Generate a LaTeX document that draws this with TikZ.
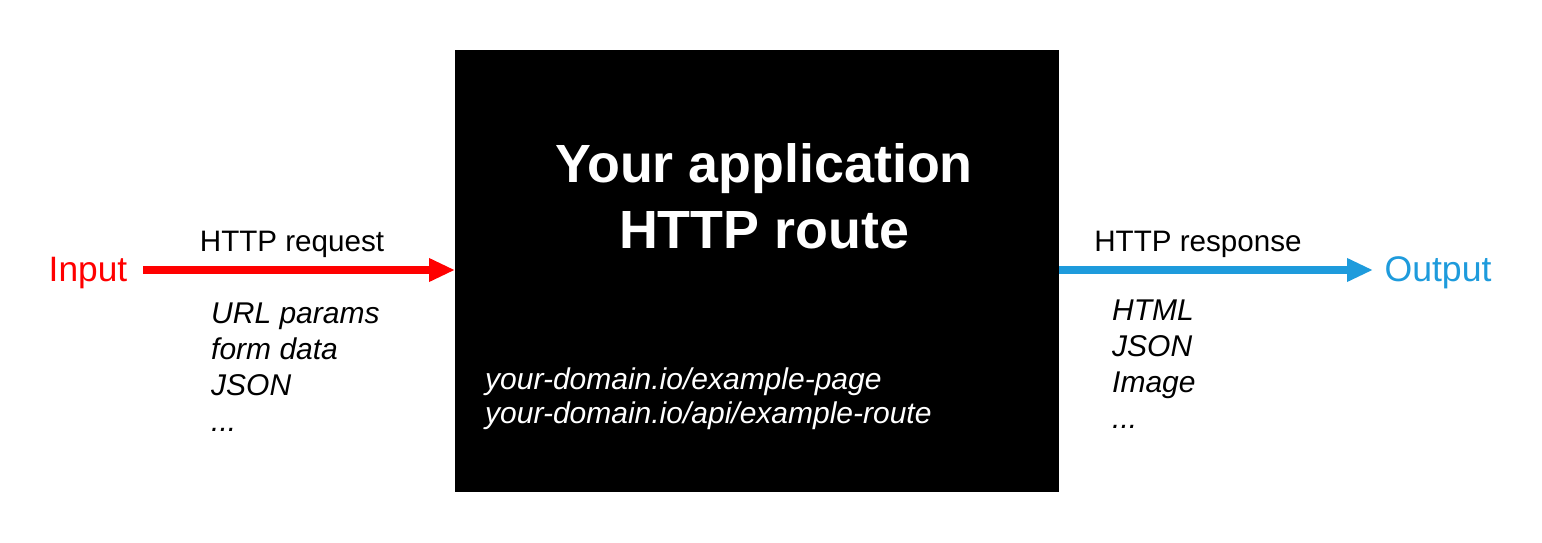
\documentclass[tikz,border=0pt]{standalone}
\usepackage{fontspec}
\setmainfont{Liberation Sans}
\usetikzlibrary{arrows.meta}
\definecolor{inred}{RGB}{255,0,0}
\definecolor{outblue}{RGB}{30,155,220}
\begin{document}
\begin{tikzpicture}[x=1pt,y=-1pt,
  lbl/.style={inner sep=0pt,font=\fontsize{29.6}{36}\selectfont},
  lst/.style={inner sep=0pt,anchor=north west,align=left,font=\fontsize{30}{36}\selectfont\itshape},
  flow/.style={line width=8pt,-{Triangle[length=26pt,width=22pt]}}]
\useasboundingbox[fill=white] (0,0) rectangle (1542,543);
\node[fill=black,minimum width=604pt,minimum height=442pt,inner sep=0pt,anchor=north west] (app) at (455,50) {};
\node[inner sep=0pt,text=white,align=center,font=\fontsize{53.8}{66}\selectfont\bfseries] (title) at (764,196) {Your application\\HTTP route};
\node[inner sep=0pt,text=white,anchor=north west,align=left,font=\fontsize{30}{34}\selectfont\itshape] (urls) at (485,368) {your-domain.io/example-page\\your-domain.io/api/example-route};
\node[inner sep=0pt,text=inred,font=\fontsize{35.3}{40}\selectfont] (in) at (88,273) {Input};
\node[inner sep=0pt,text=outblue,font=\fontsize{35.6}{40}\selectfont] (out) at (1438,273) {Output};
\coordinate (instart) at (143,270);
\coordinate (outend) at (1373,270);
\draw[flow,inred] (instart) -- (app.west |- instart);
\draw[flow,outblue] (app.east |- outend) -- (outend);
\node[lbl] (req) at (292,244) {HTTP request};
\node[lbl] (resp) at (1198,244) {HTTP response};
\node[lst] (inlist) at (211,303) {URL params\\form data\\JSON\\...};
\node[lst] (outlist) at (1112,300) {HTML\\JSON\\Image\\...};
\end{tikzpicture}
\end{document}
